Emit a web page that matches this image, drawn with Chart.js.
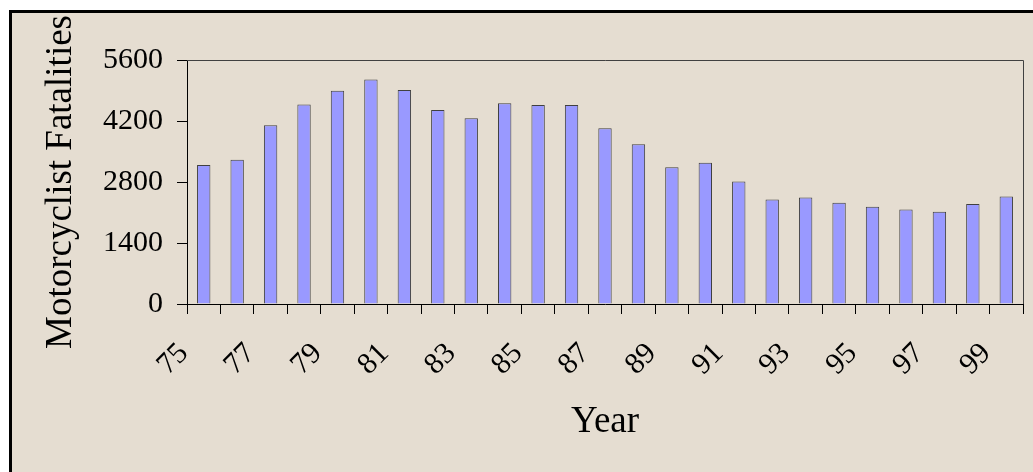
<!DOCTYPE html>
<html>
<head>
<meta charset="utf-8">
<script src="https://cdn.jsdelivr.net/npm/chart.js@4.4.1/dist/chart.umd.min.js"></script>
<style>
html,body{margin:0;padding:0;background:#fff;overflow:hidden;width:1033px;height:472px;}
#frame{position:absolute;left:9px;top:10px;width:1100px;height:600px;border-left:3px solid #000;border-top:3px solid #000;background:#E5DDD1;}
#wrap{position:absolute;left:0;top:0;width:1033px;height:472px;}
</style>
</head>
<body>
<div id="frame"></div>
<div id="wrap"><canvas id="c" width="1033" height="472"></canvas></div>
<script>
const years = ['75','76','77','78','79','80','81','82','83','84','85','86','87','88','89','90','91','92','93','94','95','96','97','98','99'];
const fatalities = [3189,3312,4104,4580,4894,5150,4910,4455,4265,4608,4568,4568,4036,3664,3138,3244,2810,2400,2447,2322,2230,2168,2116,2294,2465];
const labeledYears = ['75','77','79','81','83','85','87','89','91','93','95','97','99'];
const yTicks = [0,1400,2800,4200,5600];

const serif = '"Liberation Serif", "Times New Roman", serif';

const plotFrame = {
  id: 'plotFrame',
  afterDatasetsDraw(chart) {
    const {ctx, chartArea: a} = chart;
    ctx.save();
    ctx.strokeStyle = '#404040';
    ctx.lineWidth = 1;
    ctx.beginPath();
    ctx.moveTo(a.left, Math.round(a.top) + 0.5);
    ctx.lineTo(Math.round(a.right) + 0.5, Math.round(a.top) + 0.5);
    ctx.lineTo(Math.round(a.right) + 0.5, a.bottom);
    ctx.stroke();
    ctx.restore();
  }
};

new Chart(document.getElementById('c'), {
  type: 'bar',
  data: {
    labels: years,
    datasets: [{
      label: 'Motorcyclist Fatalities',
      data: fatalities,
      backgroundColor: '#9999FF',
      borderColor: '#404040',
      borderWidth: 1,
      barPercentage: 0.4,
      categoryPercentage: 1.0
    }]
  },
  options: {
    responsive: false,
    animation: false,
    devicePixelRatio: 1,
    layout: { padding: { top: 60, right: 10, left: 0, bottom: 0 } },
    plugins: { legend: { display: false }, tooltip: { enabled: false } },
    scales: {
      x: {
        offset: true,
        grid: { offset: true, drawOnChartArea: false, drawTicks: true, tickLength: 10, color: '#000', lineWidth: 1 },
        border: { display: true, color: '#000', width: 1 },
        ticks: {
          autoSkip: false, minRotation: 45, maxRotation: 45,
          padding: 22, labelOffset: -20, color: '#000',
          font: { family: serif, size: 30 },
          callback: function(v, i) { const l = years[i]; return labeledYears.includes(l) ? l : ''; }
        },
        title: { display: true, text: 'Year', color: '#000', font: { family: serif, size: 37 }, padding: { top: 0, bottom: 28 } },
        afterFit(s) { s.height = 168; s.paddingLeft = 0; s.paddingRight = 0; }
      },
      y: {
        min: yTicks[0], max: yTicks[yTicks.length - 1],
        grid: { drawOnChartArea: false, drawTicks: true, tickLength: 10, color: '#000', lineWidth: 1 },
        border: { display: true, color: '#000', width: 1 },
        afterBuildTicks(s) { s.ticks = yTicks.map(v => ({ value: v })); },
        ticks: { padding: 14, color: '#000', font: { family: serif, size: 30 }, callback: v => String(v) },
        title: { display: true, text: 'Motorcyclist Fatalities', color: '#000', font: { family: serif, size: 37 }, padding: { top: 39, bottom: 0 } },
        afterFit(s) { s.width = 187; s.paddingTop = 0; s.paddingBottom = 0; }
      }
    }
  },
  plugins: [plotFrame]
});
</script>
</body>
</html>
